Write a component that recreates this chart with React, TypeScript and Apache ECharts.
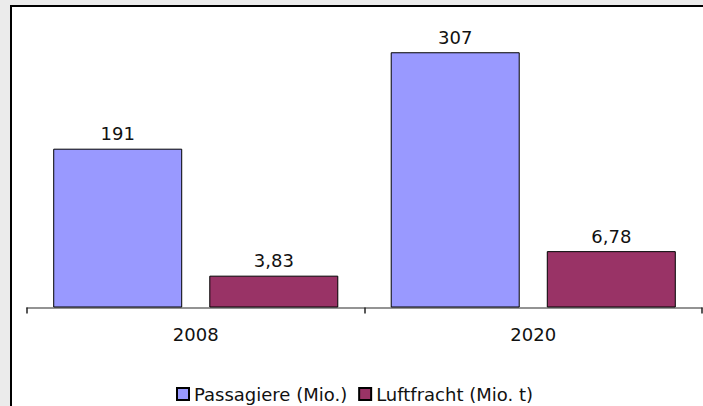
import React, { useEffect, useRef } from "react";
import * as echarts from "echarts";

const categories = ["2008", "2020"];
const passagiere = [191, 307];
const luftfracht = [3.83, 6.78];
const seriesNames = ["Passagiere (Mio.)", "Luftfracht (Mio. t)"];

const FONT = "DejaVu Sans";

export default function App() {
  const ref = useRef<HTMLDivElement>(null);
  useEffect(() => {
    if (!ref.current) return;
    const chart = echarts.init(ref.current, undefined, { renderer: "svg" });
    const fmt = (p: any) => String(p.value).replace(".", ",");
    chart.setOption({
      animation: false,
      backgroundColor: "#ebebeb",
      graphic: [
        {
          type: "rect",
          shape: { x: 11, y: 6, width: 720, height: 430 },
          style: { fill: "#ffffff", stroke: "#000000", lineWidth: 2 },
          z: -10,
          silent: true,
        },
      ],
      grid: { left: 27, right: 1, top: 16.5, bottom: 98.5 },
      legend: {
        left: 171,
        top: 380,
        itemWidth: 12,
        itemHeight: 12,
        itemGap: 11,
        icon: "rect",
        textStyle: { fontFamily: FONT, fontSize: 18, color: "#111" },
        data: seriesNames,
      },
      xAxis: {
        type: "category",
        data: categories,
        boundaryGap: true,
        axisLine: { lineStyle: { color: "#707070", width: 1.5 } },
        axisTick: { show: true, length: 6, lineStyle: { color: "#222", width: 1.5 } },
        axisLabel: { fontFamily: FONT, fontSize: 18, color: "#111", margin: 18 },
      },
      yAxis: [
        { type: "value", min: 0, max: 350, show: false, splitLine: { show: false } },
        { type: "value", min: 0, max: 35, show: false, splitLine: { show: false } },
      ],
      series: [
        {
          name: seriesNames[0],
          type: "bar",
          yAxisIndex: 0,
          data: passagiere,
          barWidth: 129,
          barGap: "21%",
          itemStyle: { color: "#9999ff", borderColor: "#000", borderWidth: 1 },
          label: {
            show: true,
            position: "top",
            distance: 6,
            formatter: fmt,
            fontFamily: FONT,
            fontSize: 18,
            color: "#111",
          },
        },
        {
          name: seriesNames[1],
          type: "bar",
          yAxisIndex: 1,
          data: luftfracht,
          barWidth: 129,
          barGap: "21%",
          itemStyle: { color: "#993366", borderColor: "#000", borderWidth: 1 },
          label: {
            show: true,
            position: "top",
            distance: 6,
            formatter: fmt,
            fontFamily: FONT,
            fontSize: 18,
            color: "#111",
          },
        },
      ],
    });
    return () => chart.dispose();
  }, []);
  return (
    <div
      ref={ref}
      style={{ position: "fixed", left: 0, top: 0, width: 703, height: 406 }}
    />
  );
}
